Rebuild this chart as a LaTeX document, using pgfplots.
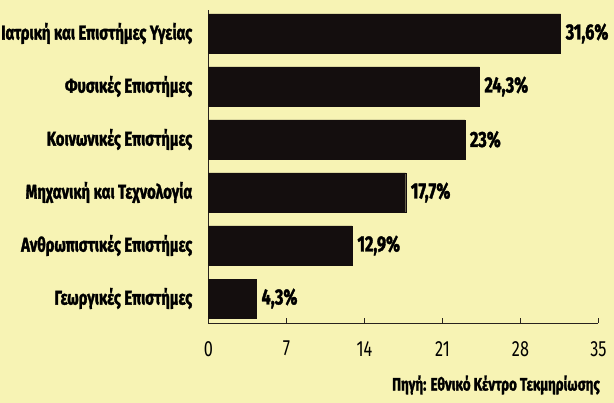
\documentclass[border=0pt]{standalone}
\usepackage{pgfplots}
\pgfplotsset{compat=1.18}
\usepackage{fontspec}
\setmainfont{Fira Sans}[FakeStretch=0.74, BoldFeatures={FakeBold=1.6}]
\definecolor{bgc}{RGB}{247,243,180}
\definecolor{barc}{RGB}{20,14,14}
\definecolor{axc}{RGB}{40,34,30}
\begin{document}
\begin{tikzpicture}
\clip (0,0) rectangle (614pt,403pt);
\fill[bgc] (0,0) rectangle (614pt,403pt);
\begin{axis}[
  at={(208.5pt,80pt)}, anchor=south west,
  scale only axis, width=390pt, height=313pt,
  xmin=0, xmax=35, ymin=-0.462, ymax=5.443,
  enlargelimits=false,
  axis x line*=bottom, axis y line*=left,
  axis line style={axc, line width=0.8pt, -},
  xtick={0,7,14,21,28,35},
  xtick align=inside,
  x tick style={axc, line width=0.8pt},
  major tick length=5pt,
  ytick={0,1,2,3,4,5},
  y tick style={draw=none},
  yticklabels={Γεωργικές Επιστήμες, Ανθρωπιστικές Επιστήμες, Μηχανική και Τεχνολογία, Κοινωνικές Επιστήμες, Φυσικές Επιστήμες, Ιατρική και Επιστήμες Υγείας},
  yticklabel style={anchor=east, inner sep=0pt, xshift=-11pt, font=\fontsize{20}{20}\selectfont\bfseries, text=black},
  xticklabel style={anchor=north, inner sep=0pt, yshift=-18pt, font=\fontsize{22}{22}\selectfont\mdseries, text=black},
  /pgf/number format/assume math mode=true,
  xbar, bar width=39pt,
  point meta=explicit symbolic,
  nodes near coords,
  nodes near coords style={anchor=west, inner sep=0pt, xshift=5pt, font=\fontsize{22}{22}\selectfont\bfseries, text=black},
]
\addplot[fill=barc, draw=barc] coordinates {
  (4.3,0) [4,3\%]
  (12.9,1) [12,9\%]
  (17.7,2) [17,7\%]
  (23,3) [23\%]
  (24.3,4) [24,3\%]
  (31.6,5) [31,6\%]
};
\end{axis}
\node[anchor=west, inner sep=0pt, font=\fontsize{18}{18}\selectfont\bfseries] at (392pt,18pt) {Πηγή: Εθνικό Κέντρο Τεκμηρίωσης};
\end{tikzpicture}
\end{document}
